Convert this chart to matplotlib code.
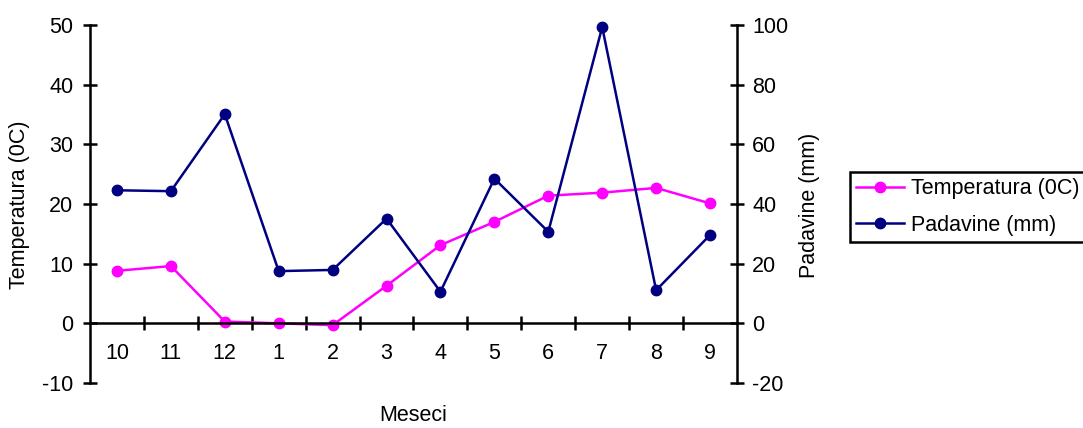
import numpy as np
import matplotlib
matplotlib.use('Agg')
from matplotlib import pyplot as plt
from matplotlib.ticker import FixedLocator

# data
meseci = ['10', '11', '12', '1', '2', '3', '4', '5', '6', '7', '8', '9']
temperatura = [8.8, 9.6, 0.3, 0.0, -0.3, 6.3, 13.1, 17.0, 21.4, 21.9, 22.7, 20.1]
padavine = [44.6, 44.3, 70.1, 17.5, 17.9, 35.1, 10.6, 48.5, 30.7, 99.3, 11.1, 29.6]

plt.rcParams['font.family'] = ['Liberation Sans', 'DejaVu Sans']
plt.rcParams['font.size'] = 15.5
plt.rcParams['axes.unicode_minus'] = False

fig = plt.figure(figsize=(10.83, 4.28), dpi=100)
ax = fig.add_axes([90 / 1083, 1 - 383 / 428, 647 / 1083, 358 / 428])
ax2 = ax.twinx()

x = np.arange(len(meseci))

l1, = ax.plot(x, temperatura, color='#FF00FF', lw=1.8, marker='o', ms=7.5,
              label='Temperatura (0C)', clip_on=False)
l2, = ax2.plot(x, padavine, color='#000080', lw=1.8, marker='o', ms=7.5,
               label='Padavine (mm)', clip_on=False)

ax.set_xlim(-0.5, len(meseci) - 0.5)
ax.set_ylim(-10, 50)
ax2.set_ylim(-20, 100)
ax.set_yticks(np.arange(-10, 51, 10))
ax2.set_yticks(np.arange(-20, 101, 20))

# spines: left on ax, right on ax2, category axis at zero
for s in ['top', 'right']:
    ax.spines[s].set_visible(False)
for s in ['top', 'left', 'bottom']:
    ax2.spines[s].set_visible(False)
ax.spines['bottom'].set_position(('data', 0))
for sp in [ax.spines['left'], ax.spines['bottom'], ax2.spines['right']]:
    sp.set_linewidth(1.8)
    sp.set_color('black')

ax.set_xticks(x)
ax.set_xticklabels(meseci)
ax.xaxis.set_minor_locator(FixedLocator(np.arange(0.5, len(meseci) - 1, 1)))
ax.tick_params(axis='x', which='major', length=0, pad=14)
ax.tick_params(axis='x', which='minor', direction='inout', length=10, width=1.8)
ax.tick_params(axis='y', direction='inout', length=10, width=1.8, pad=7)
ax2.tick_params(axis='y', direction='inout', length=10, width=1.8, pad=6)

fig.text(20 / 1083, 1 - 205 / 428, 'Temperatura (0C)', rotation=90,
         ha='center', va='center')
fig.text(810 / 1083, 1 - 205 / 428, 'Padavine (mm)', rotation=90,
         ha='center', va='center')
fig.text(413 / 1083, 2 / 428, 'Meseci', ha='center', va='bottom')

ax2.set_zorder(ax.get_zorder() + 1)

leg = fig.legend([l1, l2], ['Temperatura (0C)', 'Padavine (mm)'],
                 loc='center left', bbox_to_anchor=(850 / 1083, 1 - 207 / 428),
                 fancybox=False, edgecolor='black', framealpha=1,
                 handlelength=2.2, borderpad=0.3, labelspacing=0.7,
                 handletextpad=0.35, borderaxespad=0)
leg.get_frame().set_linewidth(1.8)

plt.savefig('out.png', dpi=100)
